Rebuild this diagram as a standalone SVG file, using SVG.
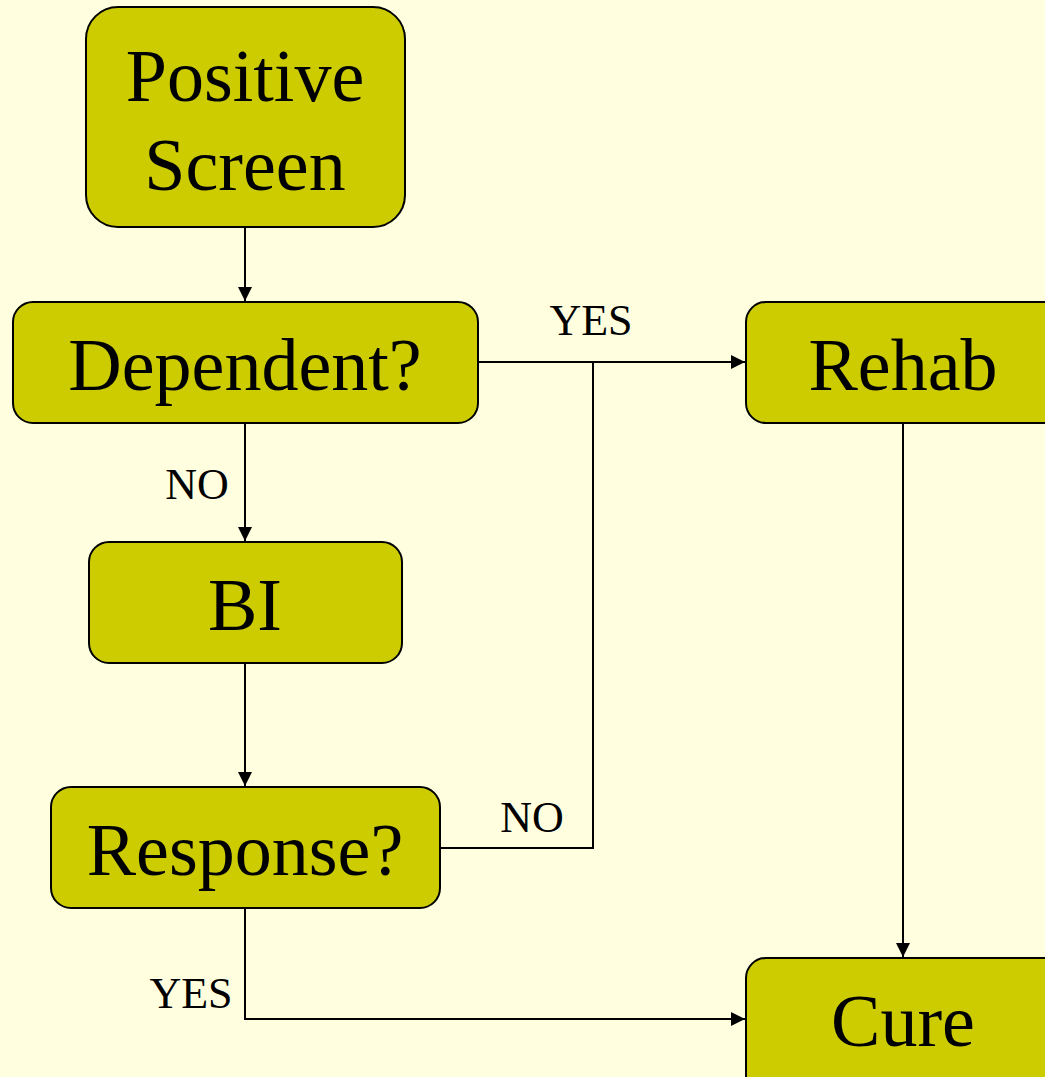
<svg xmlns="http://www.w3.org/2000/svg" width="1045" height="1077" viewBox="0 0 1045 1077">
<style>
.node{fill:#CCCC00;stroke:#000;stroke-width:2}
.lbl{font-family:"Liberation Serif",serif;font-size:74px;fill:#000;text-anchor:middle}
.edge{fill:none;stroke:#000;stroke-width:2}
.el{font-family:"Liberation Serif",serif;font-size:44px;fill:#000;text-anchor:middle}
</style>
<defs>
<marker id="ah" viewBox="0 0 10 10" refX="10" refY="5" markerWidth="16" markerHeight="14" markerUnits="userSpaceOnUse" orient="auto">
<path d="M0,0 L10,5 L0,10 Z" fill="#000"/>
</marker>
</defs>
<rect width="1045" height="1077" fill="#FFFFE0"/>
<g id="connectors">
<path class="edge" d="M245,227 V301" marker-end="url(#ah)"/>
<path class="edge" d="M478,362 H745" marker-end="url(#ah)"/>
<path class="edge" d="M245,423 V541" marker-end="url(#ah)"/>
<path class="edge" d="M245,663 V786" marker-end="url(#ah)"/>
<path class="edge" d="M440,848 H593 V362"/>
<path class="edge" d="M903,423 V957" marker-end="url(#ah)"/>
<path class="edge" d="M245,908 V1019 H745" marker-end="url(#ah)"/>
<text class="el" x="591" y="335">YES</text>
<text class="el" x="197" y="499">NO</text>
<text class="el" x="532" y="832">NO</text>
<text class="el" x="191" y="1008">YES</text>
</g>
<g id="positive-screen">
<rect class="node" x="86" y="7" width="319" height="220" rx="32"/>
<text class="lbl" x="245" y="101">Positive</text>
<text class="lbl" x="245" y="190">Screen</text>
</g>
<g id="dependent">
<rect class="node" x="13" y="302" width="465" height="121" rx="20"/>
<text class="lbl" x="245" y="390">Dependent?</text>
</g>
<g id="rehab">
<rect class="node" x="746" y="302" width="320" height="121" rx="20"/>
<text class="lbl" x="903" y="390">Rehab</text>
</g>
<g id="bi">
<rect class="node" x="89" y="542" width="313" height="121" rx="20"/>
<text class="lbl" x="245" y="630">BI</text>
</g>
<g id="response">
<rect class="node" x="51" y="787" width="389" height="121" rx="20"/>
<text class="lbl" x="245" y="875">Response?</text>
</g>
<g id="cure">
<rect class="node" x="746" y="958" width="320" height="140" rx="20"/>
<text class="lbl" x="903" y="1046">Cure</text>
</g>
</svg>
